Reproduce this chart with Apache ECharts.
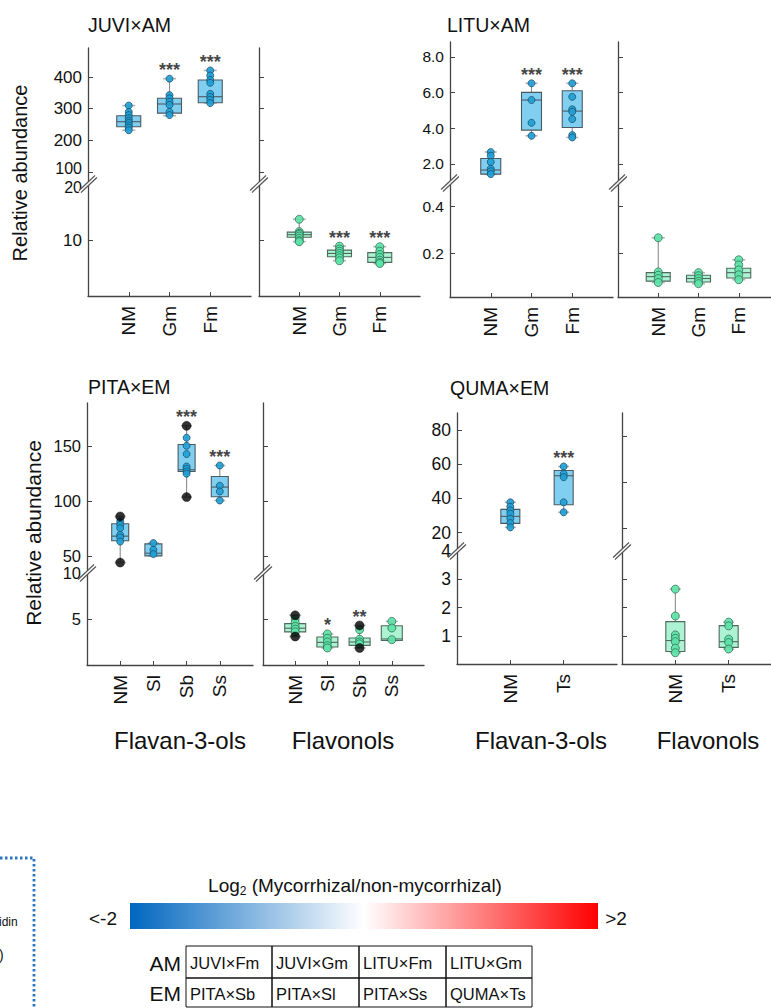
<!DOCTYPE html>
<html><head><meta charset="utf-8">
<script src="https://cdn.jsdelivr.net/npm/echarts@6/dist/echarts.min.js"></script>
<style>html,body{margin:0;padding:0;background:#fff}#c{width:771px;height:1008px}</style>
</head><body><div id="c"></div>
<script>
// ================= DATA =================
// box = [min, Q1, median, Q3, max]; pts = individual samples; ext = highlighted (black) samples
const juviGroups = ['NM', 'Gm', 'Fm'];
const juviFlavan3olsBox = [[232, 243, 259, 278, 310], [278, 286, 315, 333, 395], [318, 319, 338, 391, 421]];
const juviFlavan3olsPts = [[310, 290, 280, 270, 262, 255, 247, 240, 232], [395, 343, 333, 322, 312, 290, 280], [421, 405, 391, 382, 347, 337, 328, 318]];
const juviFlavan3olsExt = [[], [], []];
const juviFlavan3olsSig = ['', '***', '***'];
const juviFlavonolsBox = [[9.7, 10.5, 10.95, 11.4, 13.7], [6.3, 7.0, 7.6, 8.2, 8.9], [5.8, 6.0, 6.9, 7.75, 8.8]];
const juviFlavonolsPts = [[13.7, 11.5, 11.2, 11.0, 10.7, 10.3, 9.9, 9.7], [8.9, 8.4, 8.0, 7.6, 7.2, 6.8, 6.3], [8.8, 8.0, 7.4, 6.9, 6.4, 6.0, 5.8]];
const juviFlavonolsExt = [[], [], []];
const juviFlavonolsSig = ['', '***', '***'];
const juviUpperTicks = [100, 200, 300, 400];
const juviLowerTicks = [10, 20];

const lituGroups = ['NM', 'Gm', 'Fm'];
const lituFlavan3olsBox = [[1.40, 1.42, 1.65, 2.30, 2.66], [3.57, 3.89, 5.58, 6.01, 6.52], [3.48, 4.04, 4.96, 6.10, 6.52]];
const lituFlavan3olsPts = [[2.66, 2.45, 2.10, 1.72, 1.58, 1.42], [6.52, 5.58, 4.30, 3.57], [6.52, 5.76, 5.06, 4.92, 4.51, 3.61, 3.48]];
const lituFlavan3olsExt = [[], [], []];
const lituFlavan3olsSig = ['', '***', '***'];
const lituFlavonolsBox = [[0.075, 0.081, 0.100, 0.117, 0.266], [0.070, 0.077, 0.092, 0.106, 0.117], [0.087, 0.094, 0.117, 0.136, 0.172]];
const lituFlavonolsPts = [[0.266, 0.120, 0.106, 0.092, 0.075], [0.117, 0.104, 0.092, 0.080, 0.070], [0.172, 0.150, 0.129, 0.108, 0.087]];
const lituFlavonolsExt = [[], [], []];
const lituFlavonolsSig = ['', '', ''];
const lituUpperTicks = [2, 4, 6, 8];
const lituLowerTicks = [0.2, 0.4];

const pitaGroups = ['NM', 'Sl', 'Sb', 'Ss'];
const pitaFlavan3olsBox = [[44.5, 64.3, 68.5, 79.7, 86.4], [50.6, 50.6, 53.0, 61.5, 62.2], [104, 127.3, 128.8, 151.8, 168.8], [100.9, 104.3, 113.1, 122.7, 132.7]];
const pitaFlavan3olsPts = [[81.8, 78.8, 75.8, 69.7, 67.3, 63.6], [62.2, 56.1, 52.2], [157.9, 150.6, 143.1, 131.8, 129.7, 127.3, 125.2], [132.7, 114.3, 109.1, 100.9]];
const pitaFlavan3olsExt = [[86.4, 44.5], [], [168.8, 104], []];
const pitaFlavan3olsSig = ['', '', '***', '***'];
const pitaFlavonolsBox = [[3.1, 3.6, 4.0, 4.5, 5.4], [1.85, 1.96, 2.46, 3.04, 3.37], [1.85, 2.13, 2.5, 2.93, 4.3], [2.67, 2.67, 2.83, 4.27, 4.74]];
const pitaFlavonolsPts = [[5.0, 4.6, 4.2, 3.9, 3.6], [3.37, 2.9, 2.5, 2.1, 1.85], [3.84, 2.8, 2.5, 2.3], [4.74, 4.02, 2.75]];
const pitaFlavonolsExt = [[5.4, 3.1], [], [4.3, 1.85], []];
const pitaFlavonolsSig = ['', '*', '**', ''];
const pitaUpperTicks = [50, 100, 150];
const pitaLowerTicks = [5, 10];

const qumaGroups = ['NM', 'Ts'];
const qumaFlavan3olsBox = [[23.1, 25.4, 29.5, 33.6, 37.7], [31.9, 36.3, 53.2, 56.3, 58.6]];
const qumaFlavan3olsPts = [[37.7, 35.1, 33.0, 31.1, 28.2, 25.6, 23.1], [58.6, 54.3, 52.4, 37.7, 31.9]];
const qumaFlavan3olsExt = [[], []];
const qumaFlavan3olsSig = ['', '***'];
const qumaFlavonolsBox = [[0.40, 0.44, 0.83, 1.50, 2.65], [0.53, 0.59, 0.79, 1.36, 1.48]];
const qumaFlavonolsPts = [[2.65, 1.70, 1.03, 0.91, 0.79, 0.56, 0.40], [1.48, 1.35, 0.88, 0.76, 0.53]];
const qumaFlavonolsExt = [[], []];
const qumaFlavonolsSig = ['', ''];
const qumaUpperTicks = [20, 40, 60, 80];
const qumaLowerTicks = [1, 2, 3, 4];
const qumaRightUpperTicks = [22.5, 49.3, 76.1];

const panelTitles = ['JUVI×AM', 'LITU×AM', 'PITA×EM', 'QUMA×EM'];
const classNames = ['Flavan-3-ols', 'Flavonols'];
const yAxisTitle = 'Relative abundance';
const colorbarTitleMain = 'Log';
const colorbarTitleSub = '2';
const colorbarTitleRest = ' (Mycorrhizal/non-mycorrhizal)';
const colorbarLabels = ['<-2', '>2'];
const tableRowLabels = ['AM', 'EM'];
const amPairs = ['JUVI×Fm', 'JUVI×Gm', 'LITU×Fm', 'LITU×Gm'];
const emPairs = ['PITA×Sb', 'PITA×Sl', 'PITA×Ss', 'QUMA×Ts'];

// ================= LAYOUT / STYLE =================
const FONT = '"Liberation Sans", Arial, Helvetica, sans-serif';
const TXT = '#111';
const AX = '#444';
const BLUE = {fill: 'rgba(110,200,238,0.88)', stroke: '#4b5962', pt: '#1f9fd6', ptB: '#174b63', size: 7};
const GREEN = {fill: 'rgba(160,240,205,0.85)', stroke: '#4d6a5c', pt: '#5de3a8', ptB: '#2b6b4f', size: 8};

const panels = [
  {groups: juviGroups, up: [62, 492], lo: [0, 20], upTicks: juviUpperTicks, loTicks: juviLowerTicks, rUpTicks: juviUpperTicks, rLoTicks: [10], dec: 0, tight: true,
   left: {box: juviFlavan3olsBox, pts: juviFlavan3olsPts, ext: juviFlavan3olsExt, sig: juviFlavan3olsSig, seg: 'up'},
   right: {box: juviFlavonolsBox, pts: juviFlavonolsPts, ext: juviFlavonolsExt, sig: juviFlavonolsSig, seg: 'lo'},
   L: [88, 251], R: [259, 420], top: 48, brk: 184, bottom: 296, fs: 17, bw: [24, 24], cw: [13, 13],
   title: [88, 25], yname: [20, 173, 20], cls: null},
  {groups: lituGroups, up: [0.92, 8.84], lo: [0.013, 0.5], upTicks: lituUpperTicks, loTicks: lituLowerTicks, rUpTicks: lituUpperTicks, rLoTicks: lituLowerTicks, dec: 1, tight: false,
   left: {box: lituFlavan3olsBox, pts: lituFlavan3olsPts, ext: lituFlavan3olsExt, sig: lituFlavan3olsSig, seg: 'up'},
   right: {box: lituFlavonolsBox, pts: lituFlavonolsPts, ext: lituFlavonolsExt, sig: lituFlavonolsSig, seg: 'lo'},
   L: [450, 613], R: [618, 779], top: 42, brk: 183, bottom: 297, fs: 15.5, bw: [20, 24], cw: [12, 13],
   title: [447, 25], yname: null, cls: null},
  {groups: pitaGroups, up: [35, 189.5], lo: [0, 10], upTicks: pitaUpperTicks, loTicks: pitaLowerTicks, rUpTicks: pitaUpperTicks, rLoTicks: [5], dec: 0, tight: false,
   left: {box: pitaFlavan3olsBox, pts: pitaFlavan3olsPts, ext: pitaFlavan3olsExt, sig: pitaFlavan3olsSig, seg: 'up'},
   right: {box: pitaFlavonolsBox, pts: pitaFlavonolsPts, ext: pitaFlavonolsExt, sig: pitaFlavonolsSig, seg: 'lo'},
   L: [87, 253], R: [263, 424], top: 403, brk: 573, bottom: 665, fs: 16.5, bw: [17, 21], cw: [11, 12],
   title: [88, 387], yname: [33, 533, 21], cls: [180, 343]},
  {groups: qumaGroups, up: [9.3, 89.8], lo: [0, 4], upTicks: qumaUpperTicks, loTicks: qumaLowerTicks, rUpTicks: qumaRightUpperTicks, rLoTicks: [1, 2, 3], dec: 0, tight: false,
   left: {box: qumaFlavan3olsBox, pts: qumaFlavan3olsPts, ext: qumaFlavan3olsExt, sig: qumaFlavan3olsSig, seg: 'up'},
   right: {box: qumaFlavonolsBox, pts: qumaFlavonolsPts, ext: qumaFlavonolsExt, sig: qumaFlavonolsSig, seg: 'lo'},
   L: [457, 617], R: [622, 782], top: 413, brk: 551, bottom: 664, fs: 17.5, bw: [19, 19], cw: [11, 11],
   title: [450, 388], yname: null, cls: [541, 708]}
];

const grids = [], xAxes = [], yAxes = [], series = [], graphics = [];

function boxRender(st, bw, cw) {
  return function (params, api) {
    const x = api.value(0);
    const P = [1, 2, 3, 4, 5].map(i => api.coord([x, api.value(i)]));
    const cx = P[0][0], hw = bw / 2, hc = cw / 2;
    return {type: 'group', children: [
      {type: 'line', shape: {x1: cx, y1: P[0][1], x2: cx, y2: P[1][1]}, style: {stroke: '#8c8c8c', lineWidth: 1.1}},
      {type: 'line', shape: {x1: cx, y1: P[3][1], x2: cx, y2: P[4][1]}, style: {stroke: '#8c8c8c', lineWidth: 1.1}},
      {type: 'line', shape: {x1: cx - hc, y1: P[0][1], x2: cx + hc, y2: P[0][1]}, style: {stroke: '#b5b5b5', lineWidth: 1.6}},
      {type: 'line', shape: {x1: cx - hc, y1: P[4][1], x2: cx + hc, y2: P[4][1]}, style: {stroke: '#b5b5b5', lineWidth: 1.6}},
      {type: 'rect', shape: {x: cx - hw, y: P[3][1], width: bw, height: P[1][1] - P[3][1]}, style: {fill: st.fill, stroke: st.stroke, lineWidth: 1.1}},
      {type: 'line', shape: {x1: cx - hw, y1: P[2][1], x2: cx + hw, y2: P[2][1]}, style: {stroke: st.stroke, lineWidth: 1.1}}
    ]};
  };
}

// label formatter; for tightly stacked break labels nudge them apart slightly
function makeFmt(dec, tight, segName, labels) {
  return v => {
    const s = dec ? Number(v).toFixed(dec) : String(v);
    if (tight && segName === 'up' && v === labels[0]) return '{b|' + s + '}';
    if (tight && segName === 'lo' && v === labels[labels.length - 1]) return '{t|' + s + '}';
    return s;
  };
}

panels.forEach((p, pi) => {
  const n = p.groups.length;
  ['left', 'right'].forEach((side, si) => {
    const X = si === 0 ? p.L : p.R;
    const isLeft = si === 0;
    const segs = [
      {name: 'up', top: p.top, bottom: p.brk, range: p.up, labels: p.upTicks, ticks: isLeft ? p.upTicks : p.rUpTicks},
      {name: 'lo', top: p.brk, bottom: p.bottom, range: p.lo, labels: p.loTicks, ticks: isLeft ? p.loTicks.filter(v => v < p.lo[1]) : p.rLoTicks}
    ];
    segs.forEach(sg => {
      const gi = grids.length;
      grids.push({left: X[0], top: sg.top, width: X[1] - X[0], height: sg.bottom - sg.top, containLabel: false, outerBoundsMode: 'none'});
      const isLow = sg.name === 'lo';
      xAxes.push({
        gridIndex: gi, type: 'value', min: -1, max: n, show: isLow,
        axisLine: {show: true, onZero: false, lineStyle: {color: AX, width: 1.3}},
        axisTick: {show: true, inside: true, length: 4, customValues: p.groups.map((g, i) => i), lineStyle: {color: AX}},
        axisLabel: {show: true, customValues: p.groups.map((g, i) => i), formatter: v => p.groups[Math.round(v)] || '', rotate: 90, margin: 10,
          fontSize: 19, color: TXT, fontFamily: FONT},
        splitLine: {show: false}
      });
      const lfs = p.tight ? 16 : p.fs;
      yAxes.push({
        gridIndex: gi, type: 'value', min: sg.range[0], max: sg.range[1],
        axisLine: {show: true, onZero: false, lineStyle: {color: AX, width: 1.3}},
        axisTick: {show: true, inside: true, length: 5, customValues: sg.ticks, lineStyle: {color: AX}},
        axisLabel: {show: isLeft, customValues: sg.labels, formatter: makeFmt(p.dec, p.tight, sg.name, sg.labels), margin: 6,
          fontSize: p.fs, color: TXT, fontFamily: FONT,
          rich: {b: {fontSize: lfs, padding: [0, 0, 7, 0], fontFamily: FONT, color: TXT}, t: {fontSize: lfs, padding: [7, 0, 0, 0], fontFamily: FONT, color: TXT}}},
        splitLine: {show: false}
      });
      const d = p[side];
      if (d.seg === sg.name) {
        const st = isLeft ? BLUE : GREEN;
        series.push({
          type: 'custom', xAxisIndex: gi, yAxisIndex: gi, z: 2, clip: false,
          renderItem: boxRender(st, p.bw[si], p.cw[si]),
          encode: {x: 0, y: [1, 2, 3, 4, 5]},
          data: d.box.map((b, i) => [i].concat(b))
        });
        const pts = [];
        d.pts.forEach((arr, i) => arr.forEach(v => pts.push([i, v])));
        series.push({
          type: 'scatter', xAxisIndex: gi, yAxisIndex: gi, z: 3, symbolSize: st.size,
          itemStyle: {color: st.pt, borderColor: st.ptB, borderWidth: 0.8, opacity: 0.92},
          data: pts
        });
        const ext = [];
        d.ext.forEach((arr, i) => arr.forEach(v => ext.push([i, v])));
        if (ext.length) series.push({
          type: 'scatter', xAxisIndex: gi, yAxisIndex: gi, z: 4, symbolSize: 9,
          itemStyle: {color: '#000', borderColor: '#000', borderWidth: 0.5}, data: ext
        });
        series.push({
          type: 'scatter', xAxisIndex: gi, yAxisIndex: gi, z: 5, symbolSize: 1,
          itemStyle: {color: 'rgba(0,0,0,0)'},
          label: {show: true, position: 'top', distance: -1, formatter: q => q.data.sig, fontSize: 18, fontWeight: 'bold', color: TXT, fontFamily: FONT},
          data: d.sig.map((s, i) => ({value: [i, d.box[i][4]], sig: s})).filter(o => o.sig)
        });
      }
    });
    // axis break marks
    graphics.push({type: 'line', z: 100, shape: {x1: X[0] - 8, y1: p.brk + 7.5, x2: X[0] + 8, y2: p.brk - 7.5}, style: {stroke: '#555', lineWidth: 4}});
    graphics.push({type: 'line', z: 101, shape: {x1: X[0] - 9, y1: p.brk + 8.5, x2: X[0] + 9, y2: p.brk - 8.5}, style: {stroke: '#fff', lineWidth: 1.6}});
  });
  graphics.push({type: 'text', x: p.title[0], y: p.title[1], style: {text: panelTitles[pi], fontSize: 19.5, fontFamily: FONT, fill: TXT, align: 'left', verticalAlign: 'middle', textAlign: 'left', textVerticalAlign: 'middle'}});
  if (p.yname) graphics.push({type: 'text', x: p.yname[0], y: p.yname[1], rotation: Math.PI / 2,
    style: {text: yAxisTitle, fontSize: p.yname[2], fontFamily: FONT, fill: TXT, align: 'center', verticalAlign: 'middle', textAlign: 'center', textVerticalAlign: 'middle'}});
  if (p.cls) p.cls.forEach((cx, k) => graphics.push({type: 'text', x: cx, y: 740,
    style: {text: classNames[k], fontSize: 24, fontFamily: FONT, fill: TXT, align: 'center', verticalAlign: 'middle', textAlign: 'center', textVerticalAlign: 'middle'}}));
});

// left partial dotted box
graphics.push({type: 'polyline', shape: {points: [[0, 858], [34, 858], [34, 1010]]}, style: {stroke: '#2f74c0', lineWidth: 2.8, lineDash: [2.5, 2.5], fill: null}});
graphics.push({type: 'text', x: -1, y: 922, style: {text: 'idin', fontSize: 12, fontFamily: FONT, fill: TXT, align: 'left', verticalAlign: 'middle', textAlign: 'left', textVerticalAlign: 'middle'}});
graphics.push({type: 'text', x: -1, y: 955, style: {text: ')', fontSize: 14, fontFamily: FONT, fill: TXT, align: 'left', verticalAlign: 'middle', textAlign: 'left', textVerticalAlign: 'middle'}});

// colour bar
graphics.push({type: 'rect', shape: {x: 130, y: 903, width: 468, height: 26},
  style: {fill: new echarts.graphic.LinearGradient(0, 0, 1, 0, [{offset: 0, color: '#0066bf'}, {offset: 0.5, color: '#ffffff'}, {offset: 1, color: '#ff0000'}])}});
graphics.push({type: 'text', x: 355, y: 885, style: {text: '{m|' + colorbarTitleMain + '}{s|' + colorbarTitleSub + '}{m|' + colorbarTitleRest + '}',
  rich: {m: {fontSize: 19, lineHeight: 24, fontFamily: FONT, fill: TXT, color: TXT}, s: {fontSize: 12, lineHeight: 12, verticalAlign: 'bottom', fontFamily: FONT, color: TXT, fill: TXT}},
  align: 'center', verticalAlign: 'middle', textAlign: 'center', textVerticalAlign: 'middle'}});
graphics.push({type: 'text', x: 103, y: 918, style: {text: colorbarLabels[0], fontSize: 19, fontFamily: FONT, fill: TXT, align: 'center', verticalAlign: 'middle', textAlign: 'center', textVerticalAlign: 'middle'}});
graphics.push({type: 'text', x: 616, y: 918, style: {text: colorbarLabels[1], fontSize: 19, fontFamily: FONT, fill: TXT, align: 'center', verticalAlign: 'middle', textAlign: 'center', textVerticalAlign: 'middle'}});

// table
const colX = [186, 272, 359, 446, 532];
const rowY = [946, 978, 1007];
[amPairs, emPairs].forEach((row, r) => {
  graphics.push({type: 'text', x: 181, y: (rowY[r] + rowY[r + 1]) / 2 + 1, style: {text: tableRowLabels[r], fontSize: 21, fontFamily: FONT, fill: TXT, align: 'right', verticalAlign: 'middle', textAlign: 'right', textVerticalAlign: 'middle'}});
  row.forEach((t, c) => {
    graphics.push({type: 'rect', shape: {x: colX[c], y: rowY[r], width: colX[c + 1] - colX[c], height: rowY[r + 1] - rowY[r]}, style: {fill: null, stroke: '#111', lineWidth: 1}});
    graphics.push({type: 'text', x: colX[c] + 4, y: (rowY[r] + rowY[r + 1]) / 2 + 1, style: {text: t, fontSize: 16.5, fontFamily: FONT, fill: TXT, align: 'left', verticalAlign: 'middle', textAlign: 'left', textVerticalAlign: 'middle'}});
  });
});

const chart = echarts.init(document.getElementById('c'), null, {renderer: 'svg', width: 771, height: 1008});
chart.setOption({
  animation: false,
  backgroundColor: '#fff',
  grid: grids, xAxis: xAxes, yAxis: yAxes, series: series, graphic: {elements: graphics}
});
</script></body></html>
